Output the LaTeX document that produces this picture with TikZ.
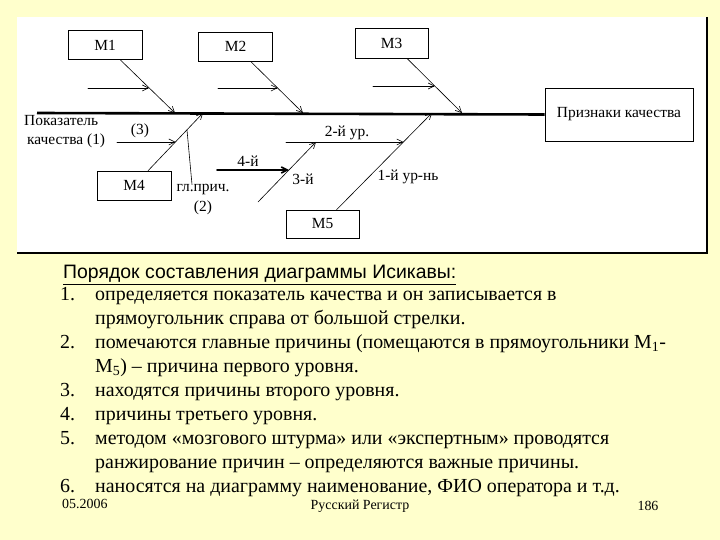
\documentclass[tikz,border=0pt]{standalone}
\usepackage{fontspec}
\setmainfont{Liberation Serif}
\newfontfamily\headfont{Liberation Sans}
\usetikzlibrary{arrows.meta,calc,positioning}
\definecolor{slideyellow}{RGB}{255,255,204}

\begin{document}
\begin{tikzpicture}[x=1bp,y=-1bp,line cap=round,
 >={Straight Barb[length=6pt,width=6pt]},
 mbox/.style={draw,fill=white,line width=.8bp,inner sep=0pt,
  minimum width=74bp,minimum height=29bp,font=\fontsize{15.5}{17}\selectfont},
 bone/.style={->,line width=.6bp},
 lbl/.style={font=\fontsize{15.5}{17}\selectfont,inner sep=0pt},
 item/.style={font=\fontsize{20}{22}\selectfont,inner sep=0pt,anchor=mid west}]
 % slide and white panel
 \fill[slideyellow] (0,0) rectangle (720,540);
 \useasboundingbox (0,0) rectangle (720,540);
 \fill[white] (17,17) rectangle (707,253);
 \draw[line width=1.5bp,line cap=butt] (707,17) -- (707,253) -- (17,253);
 % effect and main causes
 \node[mbox,minimum width=148bp,minimum height=53bp] (eff) at (619,114.5)
  {Признаки качества};
 \node[mbox] (m1) at (105,45) {М1};
 \node[mbox] (m2) at (235.5,46.5) {М2};
 \node[mbox,minimum width=73bp,minimum height=30bp] (m3) at (391.5,43) {М3};
 \node[mbox] (m4) at (134,185.5) {М4};
 \node[mbox,minimum width=73bp,minimum height=28bp] (m5) at (322.5,224) {М5};
 % spine
 \coordinate (tail) at (37,113);
 \draw[line width=2.6bp,line cap=butt] (tail) -- (eff.west);
 \coordinate (s1) at (175,113);
 \coordinate (s2) at (303,113);
 \coordinate (s3) at (462,113);
 \coordinate (s4) at (203,113);
 \coordinate (s5) at (432,113);
 \draw[bone] (m1) -- (s1);
 \draw[bone] (m2) -- (s2);
 \draw[bone] (m3) -- (s3);
 \draw[bone] (m4) -- (s4);
 \draw[bone] (m5) -- (s5);
 % second level
 \coordinate (h1) at (88,88);   \coordinate (j1) at (149,88);
 \coordinate (h2) at (218,88);  \coordinate (j2) at (277.6,88);
 \coordinate (h3) at (373,86);  \coordinate (j3) at (434.8,86);
 \coordinate (h4) at (117,142); \coordinate (j4) at (175.5,142);
 \coordinate (h5) at (286,142); \coordinate (j5) at (403.4,142);
 \draw[bone] (h1) -- (j1);
 \draw[bone] (h2) -- (j2);
 \draw[bone] (h3) -- (j3);
 \draw[bone] (h4) -- (j4);
 \draw[bone] (h5) -- (j5);
 % third and fourth level
 \coordinate (h6) at (258,202); \coordinate (j6) at (316,142);
 \draw[bone] (h6) -- (j6);
 \coordinate (h7) at (217,170); \coordinate (j7) at (289,170);
 \draw[bone,line width=1.6bp] (h7) -- (j7);
 % labels
 \node[lbl,anchor=mid west] (pk1) at (24,123) {Показатель};
 \node[lbl,anchor=mid west] (pk2) at (27,142) {качества (1)};
 \node[lbl] (l3) at (140,131) {(3)};
 \node[lbl] (gl) at (203,190) {гл.прич.};
 \node[lbl] (gl2) at (203,208) {(2)};
 \coordinate (g) at (187,130);
 \draw[line width=.6bp] ([xshift=-11bp]gl.north) -- (g);
 \node[lbl] (u2) at (347,133) {2-й ур.};
 \node[lbl] (u4) at (248,161) {4-й};
 \node[lbl] (u3) at (303,179) {3-й};
 \node[lbl] (u1) at (408,177) {1-й ур-нь};
 % text of the slide
 \node[font=\headfont\fontsize{19.5}{22}\selectfont,inner sep=0pt,anchor=mid west]
  (title) at (63,276) {\underline{Порядок составления диаграммы Исикавы:}};
 \node[item] (n1) at (60,298) {1.};
 \node[item] (t1) at (95,298) {определяется показатель качества и он записывается в};
 \node[item] (t1b) at (95,322) {прямоугольник справа от большой стрелки.};
 \node[item] (n2) at (60,346) {2.};
 \node[item] (t2) at (95,346)
  {помечаются главные причины (помещаются в прямоугольники М\textsubscript{1}-};
 \node[item] (t2b) at (95,370) {М\textsubscript{5}) – причина первого уровня.};
 \node[item] (n3) at (60,394) {3.};
 \node[item] (t3) at (95,394) {находятся причины второго уровня.};
 \node[item] (n4) at (60,418) {4.};
 \node[item] (t4) at (95,418) {причины третьего уровня.};
 \node[item] (n5) at (60,442) {5.};
 \node[item] (t5) at (95,442) {методом «мозгового штурма» или «экспертным» проводятся};
 \node[item] (t5b) at (95,466) {ранжирование причин – определяются важные причины.};
 \node[item] (n6) at (60,490) {6.};
 \node[item] (t6) at (95,490) {наносятся на диаграмму наименование, ФИО оператора и т.д.};
 % footer
 \node[font=\fontsize{14}{16}\selectfont,inner sep=0pt,anchor=mid west] (date) at (62,506) {05.2006};
 \node[font=\fontsize{14}{16}\selectfont,inner sep=0pt] (reg) at (360,506) {Русский Регистр};
 \node[font=\fontsize{14}{16}\selectfont,inner sep=0pt] (page) at (648,506) {186};
\end{tikzpicture}
\end{document}
